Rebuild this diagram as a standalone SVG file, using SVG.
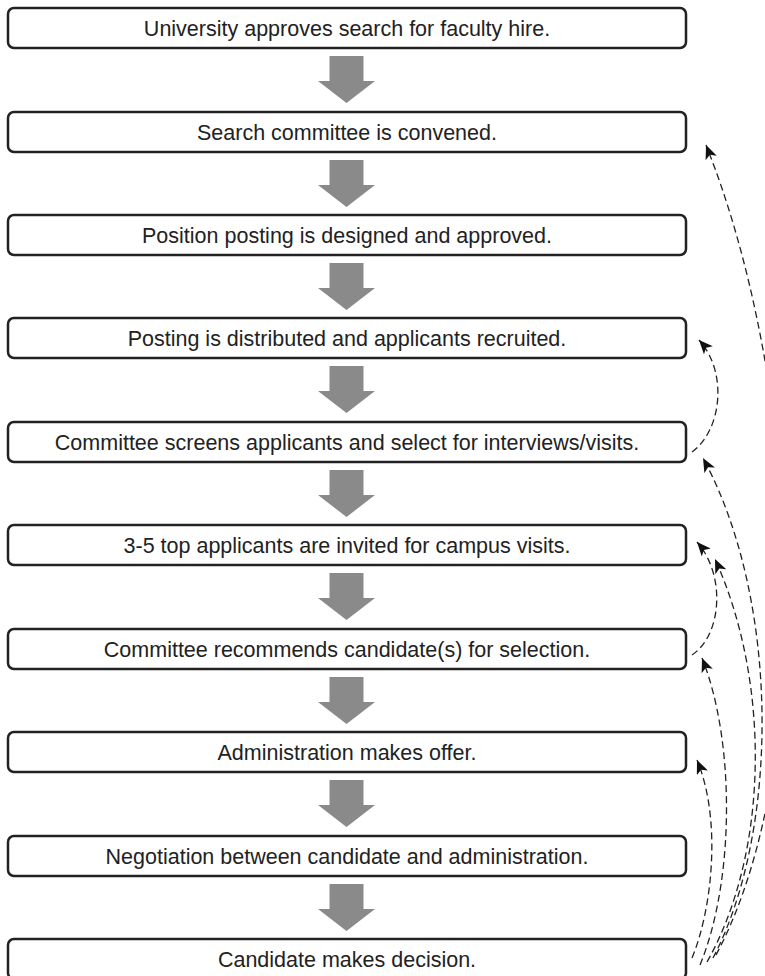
<svg xmlns="http://www.w3.org/2000/svg" width="765" height="976" viewBox="0 0 765 976">
<style>
.box rect{fill:#fff;stroke:#222;stroke-width:2.5}
.box text{font-family:"Liberation Sans",Arial,sans-serif;font-size:21.5px;fill:#222;text-anchor:middle}
.flow{fill:#8a8a8a}
.fb{fill:none;stroke:#222;stroke-width:1.3;stroke-dasharray:7 4}
</style>
<defs>
<marker id="ah" markerUnits="userSpaceOnUse" viewBox="0 0 14 12" markerWidth="14" markerHeight="12" refX="14" refY="6" orient="auto">
<path d="M0,0 L14,6 L0,12 L3.5,6 Z" fill="#111"/>
</marker>
<polygon id="down" points="329.5,0 363.5,0 363.5,25 375,25 346.5,47 318,25 329.5,25"/>
</defs>
<rect width="765" height="976" fill="#fff"/>
<g id="n1" class="box"><rect x="8" y="8" width="678" height="40" rx="6"/><text x="347" y="35.5">University approves search for faculty hire.</text></g>
<g id="n2" class="box"><rect x="8" y="112" width="678" height="40" rx="6"/><text x="347" y="139.5">Search committee is convened.</text></g>
<g id="n3" class="box"><rect x="8" y="215" width="678" height="40" rx="6"/><text x="347" y="242.5">Position posting is designed and approved.</text></g>
<g id="n4" class="box"><rect x="8" y="318" width="678" height="40" rx="6"/><text x="347" y="345.5">Posting is distributed and applicants recruited.</text></g>
<g id="n5" class="box"><rect x="8" y="422" width="678" height="40" rx="6"/><text x="347" y="449.5">Committee screens applicants and select for interviews/visits.</text></g>
<g id="n6" class="box"><rect x="8" y="525" width="678" height="40" rx="6"/><text x="347" y="552.5">3-5 top applicants are invited for campus visits.</text></g>
<g id="n7" class="box"><rect x="8" y="629" width="678" height="40" rx="6"/><text x="347" y="656.5">Committee recommends candidate(s) for selection.</text></g>
<g id="n8" class="box"><rect x="8" y="732" width="678" height="40" rx="6"/><text x="347" y="759.5">Administration makes offer.</text></g>
<g id="n9" class="box"><rect x="8" y="836" width="678" height="40" rx="6"/><text x="347" y="863.5">Negotiation between candidate and administration.</text></g>
<g id="n10" class="box"><rect x="8" y="939" width="678" height="40" rx="6"/><text x="347" y="966.5">Candidate makes decision.</text></g>
<g id="connectors">
<g class="flow">
<use href="#down" y="56"/>
<use href="#down" y="160"/>
<use href="#down" y="263"/>
<use href="#down" y="366"/>
<use href="#down" y="470"/>
<use href="#down" y="573"/>
<use href="#down" y="677"/>
<use href="#down" y="780"/>
<use href="#down" y="884"/>
</g>
<g class="fb" marker-end="url(#ah)">
<path d="M692,452 C722,430 728,372 699,340"/>
<path d="M692,655 C722,635 726,575 697,542"/>
<path d="M692,958 C712,910 722,820 697,760"/>
<path d="M700,965 C735,880 735,740 702,658"/>
<path d="M707,962 C770,850 770,680 715,559"/>
<path d="M713,958 C780,830 780,600 703,458"/>
<path d="M716,955 C820,760 800,380 706,145"/>
</g>
</g>
</svg>
